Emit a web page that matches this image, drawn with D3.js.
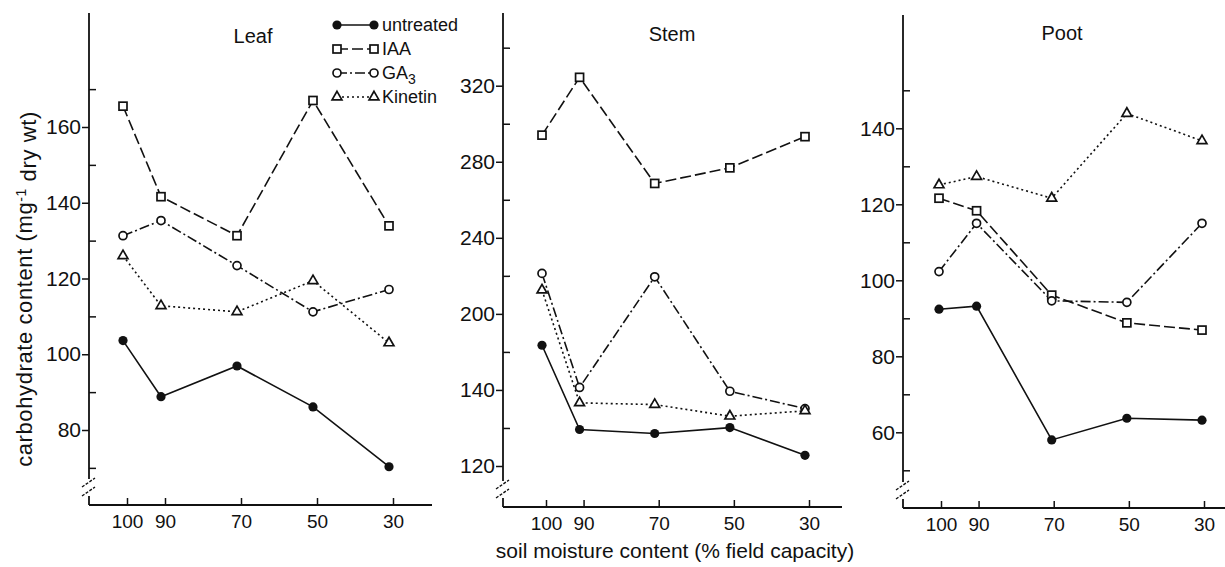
<!DOCTYPE html>
<html>
<head>
<meta charset="utf-8">
<script src="https://cdn.jsdelivr.net/npm/d3@7"></script>
<style>
body { margin: 0; background: #fff; }
svg text { font-family: "Liberation Sans", Arial, sans-serif; fill: #111; }
</style>
</head>
<body>
<svg id="chart" width="1225" height="567"></svg>
<script>
// soil moisture (% field capacity)
const moisture = [100, 90, 70, 50, 30];
const seriesNames = ["untreated", "IAA", "GA3", "Kinetin"];

const leafUntreated = [103.6, 88.8, 96.9, 86.1, 70.3];
const leafIAA = [165.5, 141.6, 131.3, 167.0, 133.9];
const leafGA3 = [131.3, 135.3, 123.4, 111.2, 117.1];
const leafKinetin = [126.0, 112.8, 111.2, 119.4, 103.0];

const stemUntreated = [183.5, 139.2, 137.1, 140.2, 125.6];
const stemIAA = [294.0, 324.4, 268.6, 276.8, 293.2];
const stemGA3 = [221.3, 161.3, 219.5, 159.3, 150.2];
const stemKinetin = [212.5, 153.2, 152.3, 146.2, 149.0];

const pootUntreated = [92.4, 93.2, 58.0, 63.7, 63.2];
const pootIAA = [121.6, 118.3, 96.1, 88.8, 86.9];
const pootGA3 = [102.3, 115.0, 94.6, 94.2, 115.0];
const pootKinetin = [125.1, 127.3, 121.6, 143.9, 136.7];

const leafTicks = [80, 100, 120, 140, 160];
const leafTickLabels = ["80", "100", "120", "140", "160"];
const leafMinor = [70, 90, 110, 130, 150, 170];
const stemTicks = [120, 160, 200, 240, 280, 320];
const stemTickLabels = ["120", "140", "200", "240", "280", "320"];
const stemMinor = [140, 180, 220, 260, 300, 340];
const pootTicks = [60, 80, 100, 120, 140];
const pootTickLabels = ["60", "80", "100", "120", "140"];
const pootMinor = [50, 70, 90, 110, 130, 150];

const styles = {
	untreated: { dash: null, marker: "dot" },
	IAA: { dash: "11,4", marker: "square" },
	GA3: { dash: "10,3,2,3", marker: "circle" },
	Kinetin: { dash: "2,3", marker: "triangle" }
};

const panels = [
	{ title: "Leaf", titleX: 253, titleY: 43, series: [leafUntreated, leafIAA, leafGA3, leafKinetin],
	  axisX: 89, top: 13, base: 505, right: 432, xRange: [127, 393], dx: -4,
	  yDomain: [80, 160], yRange: [430, 127], ticks: leafTicks, labels: leafTickLabels, minor: leafMinor },
	{ title: "Stem", titleX: 672, titleY: 41, series: [stemUntreated, stemIAA, stemGA3, stemKinetin],
	  axisX: 503, top: 13, base: 507, right: 842, xRange: [546, 809], dx: -4,
	  yDomain: [120, 320], yRange: [466, 85.7], ticks: stemTicks, labels: stemTickLabels, minor: stemMinor },
	{ title: "Poot", titleX: 1062, titleY: 40, series: [pootUntreated, pootIAA, pootGA3, pootKinetin],
	  axisX: 903, top: 15, base: 508, right: 1225, xRange: [941, 1204], dx: -2,
	  yDomain: [60, 140], yRange: [432.3, 128.3], ticks: pootTicks, labels: pootTickLabels, minor: pootMinor }
];

const svg = d3.select("#chart");

const drawMarker = (g, type, cx, cy) => {
	if (type === "dot") {
		g.append("circle").attr("cx", cx).attr("cy", cy).attr("r", 4.6).attr("fill", "#111");
	} else if (type === "circle") {
		g.append("circle").attr("cx", cx).attr("cy", cy).attr("r", 4)
			.attr("fill", "#fff").attr("stroke", "#111").attr("stroke-width", 1.7);
	} else if (type === "square") {
		g.append("rect").attr("x", cx - 4).attr("y", cy - 4).attr("width", 8).attr("height", 8)
			.attr("fill", "#fff").attr("stroke", "#111").attr("stroke-width", 1.7);
	} else {
		g.append("path").attr("transform", `translate(${cx},${cy})`)
			.attr("d", d3.symbol(d3.symbolTriangle, 42)())
			.attr("fill", "#fff").attr("stroke", "#111").attr("stroke-width", 1.7);
	}
};

panels.forEach(p => {
	const x = d3.scaleLinear().domain([100, 30]).range(p.xRange);
	const y = d3.scaleLinear().domain(p.yDomain).range(p.yRange);
	const g = svg.append("g");

	// y axis line with break near the bottom
	g.append("line").attr("x1", p.axisX).attr("x2", p.axisX).attr("y1", p.top).attr("y2", p.base - 26)
		.attr("stroke", "#111").attr("stroke-width", 1.8);
	g.append("line").attr("x1", p.axisX).attr("x2", p.axisX).attr("y1", p.base - 9).attr("y2", p.base)
		.attr("stroke", "#111").attr("stroke-width", 1.8);
	[p.base - 23, p.base - 14].forEach(by => {
		g.append("line").attr("x1", p.axisX - 7).attr("y1", by + 5).attr("x2", p.axisX + 6).attr("y2", by - 4)
			.attr("stroke", "#111").attr("stroke-width", 1.4).attr("stroke-dasharray", "3,1.5");
	});
	// x axis line
	g.append("line").attr("x1", p.axisX).attr("x2", p.right).attr("y1", p.base).attr("y2", p.base)
		.attr("stroke", "#111").attr("stroke-width", 1.8);

	const yAxis = g.append("g").attr("transform", `translate(${p.axisX},0)`)
		.call(d3.axisLeft(y).tickValues(p.ticks).tickFormat((d, i) => p.labels[i]).tickSize(7).tickPadding(1));
	yAxis.select(".domain").remove();
	yAxis.selectAll("line").attr("stroke", "#111").attr("stroke-width", 1.5);
	yAxis.selectAll("text").attr("font-size", 21).attr("font-family", "Liberation Sans, Arial, sans-serif");

	const yMinor = g.append("g").attr("transform", `translate(${p.axisX},0)`)
		.call(d3.axisRight(y).tickValues(p.minor).tickFormat("").tickSize(7));
	yMinor.select(".domain").remove();
	yMinor.selectAll("line").attr("stroke", "#111").attr("stroke-width", 1.5);

	const xAxis = g.append("g").attr("transform", `translate(0,${p.base})`)
		.call(d3.axisBottom(x).tickValues(moisture).tickSizeInner(-7).tickSizeOuter(0).tickPadding(10));
	xAxis.select(".domain").remove();
	xAxis.selectAll("line").attr("stroke", "#111").attr("stroke-width", 1.5);
	xAxis.selectAll("text").attr("font-size", 19).attr("font-family", "Liberation Sans, Arial, sans-serif");

	g.append("text").attr("x", p.titleX).attr("y", p.titleY).attr("text-anchor", "middle")
		.attr("font-size", 20).text(p.title);

	const line = d3.line().x((d, i) => x(moisture[i]) + p.dx).y(d => y(d));
	p.series.forEach((vals, si) => {
		const st = styles[seriesNames[si]];
		g.append("path").datum(vals).attr("d", line).attr("fill", "none")
			.attr("stroke", "#111").attr("stroke-width", 1.6)
			.attr("stroke-dasharray", st.dash);
	});
	p.series.forEach((vals, si) => {
		const st = styles[seriesNames[si]];
		vals.forEach((v, i) => drawMarker(g, st.marker, x(moisture[i]) + p.dx, y(v)));
	});
});

// legend
const legend = svg.append("g");
const legendRow = d3.scaleLinear().domain([0, 3]).range([25, 97]);
seriesNames.forEach((name, i) => {
	const st = styles[name];
	const ly = legendRow(i);
	legend.append("line").attr("x1", 337).attr("x2", 374).attr("y1", ly).attr("y2", ly)
		.attr("stroke", "#111").attr("stroke-width", 1.6).attr("stroke-dasharray", st.dash);
	drawMarker(legend, st.marker, 337, ly);
	drawMarker(legend, st.marker, 374, ly);
	const t = legend.append("text").attr("x", 382).attr("y", ly).attr("dy", "0.35em").attr("font-size", 18);
	if (name === "GA3") {
		t.append("tspan").text("GA");
		t.append("tspan").attr("dy", "0.3em").attr("font-size", 14).text("3");
	} else {
		t.text(name);
	}
});

// axis titles
const yl = svg.append("text").attr("transform", "translate(32,289) rotate(-90)")
	.attr("text-anchor", "middle").attr("font-size", 22).attr("letter-spacing", 0.6);
yl.append("tspan").text("carbohydrate content (mg");
yl.append("tspan").attr("dy", "-0.45em").attr("font-size", 14).text("-1");
yl.append("tspan").attr("dy", "0.45em").text(" dry wt)");

svg.append("text").attr("x", 675).attr("y", 558).attr("text-anchor", "middle")
	.attr("font-size", 21).text("soil moisture content (% field capacity)");
</script>
</body>
</html>
